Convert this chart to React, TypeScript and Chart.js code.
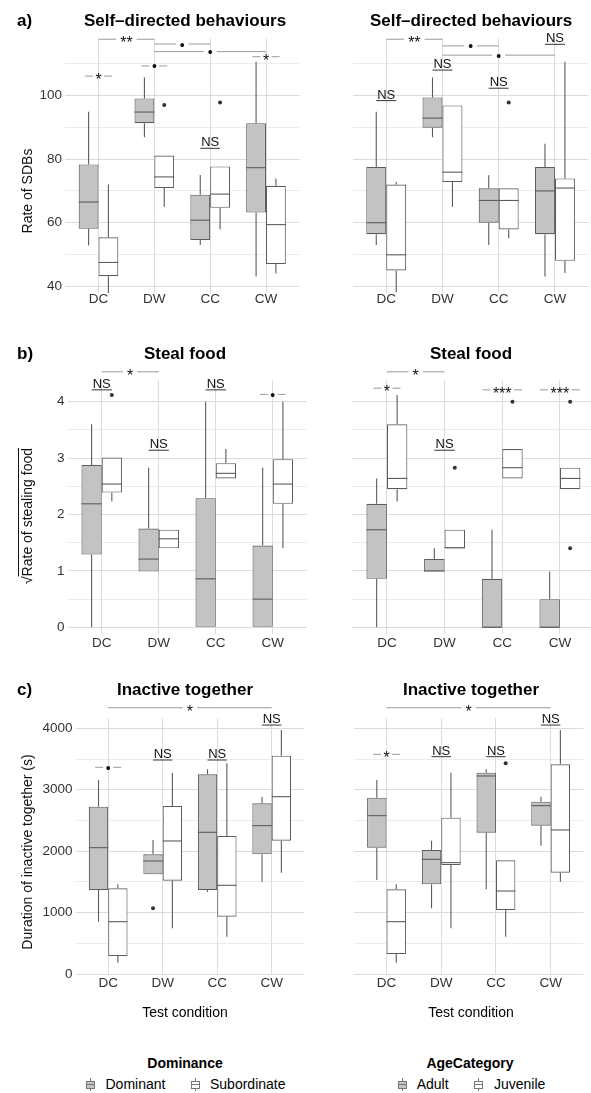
import React, { useEffect, useRef } from 'react';
import { Chart, registerables } from 'chart.js';

Chart.register(...registerables);

const FONT = '"Liberation Sans", Arial, Helvetica, sans-serif';
const GREY_FILL = '#c3c3c3';
const WHITE_FILL = '#ffffff';
const EDGE = '#5c5c5c';
const GRID_MAJOR = '#dcdcdc';
const GRID_MINOR = '#e7e7e7';
const BRACKET = '#9a9a9a';

const categories = ['DC', 'DW', 'CC', 'CW'];

// five-number summaries per category: [min, q1, median, q3, max]
const sdbDominant = [[52.8, 58.1, 66.5, 78.3, 94.9], [86.9, 91.3, 94.8, 99.1, 105.7], [53.0, 54.6, 60.8, 68.8, 75.0], [43.1, 63.2, 77.3, 91.3, 110.6]];
const sdbDominantOut = [[], [], [], []];
const sdbSubordinate = [[37.9, 43.2, 47.5, 55.4, 72.0], [65.0, 70.9, 74.4, 81.1, 81.1], [57.9, 64.7, 69.0, 77.7, 77.7], [44.0, 47.0, 59.4, 71.6, 73.9]];
const sdbSubordinateOut = [[], [97.0], [97.8], []];
const sdbAdult = [[53.0, 56.4, 60.0, 77.5, 94.9], [86.9, 89.9, 92.9, 99.4, 105.7], [53.0, 60.0, 67.0, 70.8, 74.9], [43.1, 56.4, 70.0, 77.5, 84.8]];
const sdbAdultOut = [[], [], [], []];
const sdbJuvenile = [[38.1, 45.0, 49.9, 72.0, 72.8], [65.0, 72.8, 75.9, 96.9, 96.9], [55.1, 57.9, 67.0, 70.8, 70.8], [44.2, 48.0, 70.9, 73.9, 110.6]];
const sdbJuvenileOut = [[], [], [97.8], []];

const stealDominant = [[0, 1.29, 2.19, 2.88, 3.6], [0.99, 0.99, 1.21, 1.75, 2.83], [0, 0, 0.86, 2.29, 4.0], [0, 0, 0.5, 1.45, 2.83]];
const stealDominantOut = [[], [], [], []];
const stealSubordinate = [[2.23, 2.39, 2.54, 3.01, 3.01], [1.4, 1.4, 1.57, 1.73, 1.73], [2.64, 2.64, 2.73, 2.91, 3.16], [1.4, 2.19, 2.54, 2.98, 4.0]];
const stealSubordinateOut = [[4.12], [], [], []];
const stealAdult = [[0, 0.86, 1.73, 2.19, 2.64], [0.99, 0.99, 1.0, 1.21, 1.4], [0, 0, 0, 0.86, 1.73], [0, 0, 0, 0.5, 0.99]];
const stealAdultOut = [[], [], [], []];
const stealJuvenile = [[2.23, 2.45, 2.64, 3.6, 4.12], [1.4, 1.4, 1.41, 1.73, 1.73], [2.64, 2.64, 2.83, 3.16, 3.16], [2.45, 2.45, 2.64, 2.83, 2.83]];
const stealJuvenileOut = [[], [2.83], [4.0], [4.0, 1.4]];

const inactDominant = [[852, 1368, 2057, 2725, 3159], [1623, 1623, 1840, 1948, 2182], [1340, 1368, 2307, 3251, 3332], [1503, 1948, 2415, 2779, 2887]];
const inactDominantOut = [[], [1069], [], []];
const inactSubordinate = [[185, 293, 852, 1395, 1460], [744, 1520, 2166, 2735, 3278], [608, 934, 1444, 2247, 3430], [1650, 2171, 2887, 3555, 3973]];
const inactSubordinateOut = [[], [], [], []];
const inactAdult = [[1530, 2057, 2578, 2871, 3159], [1069, 1460, 1867, 2019, 2171], [1379, 2301, 3224, 3278, 3332], [2090, 2415, 2741, 2806, 2887]];
const inactAdultOut = [[], [], [], []];
const inactJuvenile = [[185, 326, 852, 1379, 1460], [744, 1775, 1813, 2545, 3278], [608, 1042, 1351, 1851, 1851], [1503, 1650, 2345, 3414, 3973]];
const inactJuvenileOut = [[], [], [3430], []];

// tick values
const sdbTicksMajor = [40, 60, 80, 100];
const sdbTicksMinor = [50, 70, 90, 110];
const stealTicksMajor = [0, 1, 2, 3, 4];
const stealTicksMinor = [0.5, 1.5, 2.5, 3.5];
const inactTicksMajor = [0, 1000, 2000, 3000, 4000];
const inactTicksMinor = [500, 1500, 2500, 3500];

// significance annotations (between conditions, and within a condition)
const sdbDomBrackets = [{ from: 'DC', to: 'DW', y: 117.7, label: '**' }, { from: 'DW', to: 'CC', y: 116.2, label: '•' }, { from: 'DW', to: 'CW', y: 113.8, label: '•' }];
const sdbDomMarks = [{ cat: 'DC', y: 106.1, label: '*' }, { cat: 'DW', y: 109.3, label: '•' }, { cat: 'CC', y: 83.4, label: 'NS' }, { cat: 'CW', y: 112.2, label: '*' }];
const sdbAgeBrackets = [{ from: 'DC', to: 'DW', y: 117.7, label: '**' }, { from: 'DW', to: 'CC', y: 115.6, label: '•' }, { from: 'DW', to: 'CW', y: 112.7, label: '•' }];
const sdbAgeMarks = [{ cat: 'DC', y: 98.4, label: 'NS' }, { cat: 'DW', y: 108.0, label: 'NS' }, { cat: 'CC', y: 102.3, label: 'NS' }, { cat: 'CW', y: 116.1, label: 'NS' }];
const stealDomBrackets = [{ from: 'DC', to: 'DW', y: 4.53, label: '*' }];
const stealDomMarks = [{ cat: 'DC', y: 4.21, label: 'NS' }, { cat: 'DW', y: 3.14, label: 'NS' }, { cat: 'CC', y: 4.21, label: 'NS' }, { cat: 'CW', y: 4.13, label: '•' }];
const stealAgeBrackets = [{ from: 'DC', to: 'DW', y: 4.53, label: '*' }];
const stealAgeMarks = [{ cat: 'DC', y: 4.24, label: '*' }, { cat: 'DW', y: 3.14, label: 'NS' }, { cat: 'CC', y: 4.21, label: '***' }, { cat: 'CW', y: 4.21, label: '***' }];
const inactDomBrackets = [{ from: 'DC', to: 'CW', y: 4335, label: '*' }];
const inactDomMarks = [{ cat: 'DC', y: 3365, label: '•' }, { cat: 'DW', y: 3484, label: 'NS' }, { cat: 'CC', y: 3484, label: 'NS' }, { cat: 'CW', y: 4053, label: 'NS' }];
const inactAgeBrackets = [{ from: 'DC', to: 'CW', y: 4335, label: '*' }];
const inactAgeMarks = [{ cat: 'DC', y: 3576, label: '*' }, { cat: 'DW', y: 3538, label: 'NS' }, { cat: 'CC', y: 3538, label: 'NS' }, { cat: 'CW', y: 4053, label: 'NS' }];

const boxPlugin = {
  id: 'boxWhiskers',
  afterDatasetsDraw(chart: any) {
    const ctx = chart.ctx;
    const ys = chart.scales.y;
    chart.data.datasets.forEach((ds: any, d: number) => {
      const meta = chart.getDatasetMeta(d);
      meta.data.forEach((el: any, i: number) => {
        const s = ds.stats[i];
        const cx = el.x;
        const w = el.width;
        ctx.save();
        ctx.strokeStyle = EDGE;
        ctx.lineWidth = 1.1;
        ctx.beginPath();
        ctx.moveTo(cx, ys.getPixelForValue(s[3]));
        ctx.lineTo(cx, ys.getPixelForValue(s[4]));
        ctx.moveTo(cx, ys.getPixelForValue(s[1]));
        ctx.lineTo(cx, ys.getPixelForValue(s[0]));
        ctx.stroke();
        ctx.beginPath();
        ctx.moveTo(cx - w / 2, ys.getPixelForValue(s[2]));
        ctx.lineTo(cx + w / 2, ys.getPixelForValue(s[2]));
        ctx.stroke();
        ctx.fillStyle = '#333333';
        ds.outliers[i].forEach((o: number) => {
          ctx.beginPath();
          ctx.arc(cx, ys.getPixelForValue(o), 2, 0, Math.PI * 2);
          ctx.fill();
        });
        ctx.restore();
      });
    });
  },
};

const labelFont = (label: string) => (label.includes('*') ? `16px ${FONT}` : `14px ${FONT}`);

function makeSigPlugin(brackets: any[], marks: any[]) {
  return {
    id: 'sigAnnotations',
    afterDatasetsDraw(chart: any) {
      const ctx = chart.ctx;
      const xs = chart.scales.x;
      const ys = chart.scales.y;
      const m0 = chart.getDatasetMeta(0);
      const m1 = chart.getDatasetMeta(1);
      const seg = (a: number, b: number, y: number, color: string) => {
        ctx.beginPath();
        ctx.strokeStyle = color;
        ctx.lineWidth = 1;
        ctx.moveTo(a, y);
        ctx.lineTo(b, y);
        ctx.stroke();
      };
      const centered = (label: string, x: number, y: number) => {
        ctx.font = labelFont(label);
        ctx.textAlign = 'center';
        ctx.textBaseline = 'alphabetic';
        ctx.fillStyle = '#111111';
        const mt = ctx.measureText(label);
        ctx.fillText(label, x, y + (mt.actualBoundingBoxAscent - mt.actualBoundingBoxDescent) / 2);
      };
      ctx.save();
      brackets.forEach((b) => {
        const x1 = xs.getPixelForValue(categories.indexOf(b.from) + 1);
        const x2 = xs.getPixelForValue(categories.indexOf(b.to) + 1);
        const y = ys.getPixelForValue(b.y);
        const mid = (x1 + x2) / 2;
        ctx.font = labelFont(b.label);
        const tw = ctx.measureText(b.label).width;
        seg(x1, mid - tw / 2 - 4, y, BRACKET);
        seg(mid + tw / 2 + 4, x2, y, BRACKET);
        centered(b.label, mid, y);
      });
      marks.forEach((m) => {
        const i = categories.indexOf(m.cat);
        const a = m0.data[i].x;
        const c = m1.data[i].x;
        const mid = (a + c) / 2;
        const y = ys.getPixelForValue(m.y);
        if (m.label === 'NS') {
          seg(a, c, y, '#333333');
          ctx.font = `13px ${FONT}`;
          ctx.textAlign = 'center';
          ctx.textBaseline = 'alphabetic';
          ctx.fillStyle = '#111111';
          ctx.fillText('NS', mid, y - 2);
        } else {
          ctx.font = labelFont(m.label);
          const tw = ctx.measureText(m.label).width;
          seg(mid - tw / 2 - 2.5 - 8, mid - tw / 2 - 2.5, y, BRACKET);
          seg(mid + tw / 2 + 2.5, mid + tw / 2 + 2.5 + 8, y, BRACKET);
          centered(m.label, mid, y);
        }
      });
      ctx.restore();
    },
  };
}

function BoxPanel(p: any) {
  const ref = useRef<HTMLCanvasElement>(null);
  useEffect(() => {
    const allTicks = [...p.major, ...p.minor].sort((a, b) => a - b);
    const chart = new Chart(ref.current as HTMLCanvasElement, {
      type: 'bar',
      data: {
        datasets: [
          {
            label: p.groups[0],
            data: p.stats[0].map((s: number[], i: number) => ({ x: i + 1, y: [s[1], s[3]] })),
            stats: p.stats[0],
            outliers: p.outliers[0],
            backgroundColor: GREY_FILL,
            borderColor: EDGE,
            borderWidth: 1.1,
            borderSkipped: false,
          } as any,
          {
            label: p.groups[1],
            data: p.stats[1].map((s: number[], i: number) => ({ x: i + 1, y: [s[1], s[3]] })),
            stats: p.stats[1],
            outliers: p.outliers[1],
            backgroundColor: WHITE_FILL,
            borderColor: EDGE,
            borderWidth: 1.1,
            borderSkipped: false,
          } as any,
        ],
      },
      options: {
        animation: false,
        responsive: false,
        maintainAspectRatio: false,
        devicePixelRatio: 1,
        categoryPercentage: 0.71,
        barPercentage: 1,
        layout: { padding: { top: p.T - p.top, right: p.left + p.width - p.R, left: 0, bottom: 0 } },
        plugins: { legend: { display: false }, tooltip: { enabled: false } },
        scales: {
          x: {
            type: 'linear',
            min: 0.4,
            max: 4.6,
            offset: false,
            border: { display: false },
            grid: { color: GRID_MAJOR, lineWidth: 1, drawTicks: false, offset: false },
            ticks: {
              autoSkip: false,
              maxRotation: 0,
              padding: p.xPad,
              color: '#333333',
              font: { family: FONT, size: 13.5 },
              callback: (v: any) => categories[Number(v) - 1] ?? '',
            },
            afterBuildTicks: (s: any) => {
              s.ticks = categories.map((_, i) => ({ value: i + 1 }));
            },
            afterFit: (s: any) => {
              s.height = p.top + p.height - p.B;
            },
          },
          y: {
            type: 'linear',
            min: p.yMin,
            max: p.yMax,
            border: { display: false },
            grid: {
              drawTicks: false,
              color: (c: any) => (p.major.includes(c.tick?.value) ? GRID_MAJOR : GRID_MINOR),
              lineWidth: (c: any) => (p.major.includes(c.tick?.value) ? 1 : 0.8),
            },
            ticks: {
              display: p.showY,
              autoSkip: false,
              padding: 3,
              color: '#333333',
              font: { family: FONT, size: 13.5 },
              callback: (v: any) => (p.major.includes(Number(v)) ? String(v) : ''),
            },
            afterBuildTicks: (s: any) => {
              s.ticks = allTicks.map((v) => ({ value: v }));
            },
            afterFit: (s: any) => {
              s.width = p.L - p.left;
            },
          },
        },
      } as any,
      plugins: [boxPlugin, makeSigPlugin(p.brackets, p.marks)],
    });
    return () => chart.destroy();
  }, []);
  return (
    <canvas
      ref={ref}
      width={p.width}
      height={p.height}
      style={{ position: 'absolute', left: p.left, top: p.top, width: p.width, height: p.height }}
    />
  );
}

function Txt(props: any) {
  const { x, y, size, bold, center, children, color } = props;
  const top = y - 0.8465 * size;
  return (
    <div
      style={{
        position: 'absolute',
        left: center ? x - 200 : x,
        top,
        width: center ? 400 : undefined,
        textAlign: center ? 'center' : 'left',
        fontFamily: FONT,
        fontSize: size,
        fontWeight: bold ? 'bold' : 'normal',
        lineHeight: `${size}px`,
        whiteSpace: 'nowrap',
        color: color || '#000000',
      }}
    >
      {children}
    </div>
  );
}

function VTxt(props: any) {
  const { cx, cy, size, children } = props;
  return (
    <div
      style={{
        position: 'absolute',
        left: cx - 200,
        top: cy - size / 2,
        width: 400,
        height: size,
        textAlign: 'center',
        fontFamily: FONT,
        fontSize: size,
        lineHeight: `${size}px`,
        whiteSpace: 'nowrap',
        color: '#111111',
        transform: 'rotate(-90deg)',
        transformOrigin: 'center center',
      }}
    >
      {children}
    </div>
  );
}

function Glyph(props: any) {
  const { cx, top, fill } = props;
  return (
    <div style={{ position: 'absolute', left: cx - 4.5, top, width: 9, height: 13 }}>
      <div style={{ position: 'absolute', left: 4, top: 0, width: 1, height: 13, background: '#777777' }} />
      <div
        style={{
          position: 'absolute',
          left: 0,
          top: 2.5,
          width: 9,
          height: 8,
          boxSizing: 'border-box',
          border: '1px solid #777777',
          background: fill,
        }}
      />
      <div style={{ position: 'absolute', left: 0, top: 6, width: 9, height: 1, background: '#777777' }} />
    </div>
  );
}

const rowA = { top: 0, height: 310, T: 38.6, B: 293.3, yMin: 37.8, yMax: 117.9, xPad: -2.6 };
const rowB = { top: 320, height: 330, T: 380, B: 634.1, yMin: -0.12, yMax: 4.385, xPad: 0.8 };
const rowC = { top: 660, height: 340, T: 718.3, B: 974.5, yMin: -8, yMax: 4163, xPad: 0.4 };
const colL = { left: 0, width: 320, showY: true };
const colR = { left: 320, width: 275, showY: false };

export default function App() {
  return (
    <div style={{ position: 'absolute', left: 0, top: 0, width: 591, height: 1093, overflow: 'hidden', background: '#ffffff' }}>
      <BoxPanel {...rowA} {...colL} L={65} R={299.5} major={sdbTicksMajor} minor={sdbTicksMinor}
        groups={['Dominant', 'Subordinate']} stats={[sdbDominant, sdbSubordinate]} outliers={[sdbDominantOut, sdbSubordinateOut]}
        brackets={sdbDomBrackets} marks={sdbDomMarks} />
      <BoxPanel {...rowA} {...colR} L={352.5} R={588.7} major={sdbTicksMajor} minor={sdbTicksMinor}
        groups={['Adult', 'Juvenile']} stats={[sdbAdult, sdbJuvenile]} outliers={[sdbAdultOut, sdbJuvenileOut]}
        brackets={sdbAgeBrackets} marks={sdbAgeMarks} />
      <BoxPanel {...rowB} {...colL} L={67.5} R={307} major={stealTicksMajor} minor={stealTicksMinor}
        groups={['Dominant', 'Subordinate']} stats={[stealDominant, stealSubordinate]} outliers={[stealDominantOut, stealSubordinateOut]}
        brackets={stealDomBrackets} marks={stealDomMarks} />
      <BoxPanel {...rowB} {...colR} L={352.3} R={594.5} major={stealTicksMajor} minor={stealTicksMinor}
        groups={['Adult', 'Juvenile']} stats={[stealAdult, stealJuvenile]} outliers={[stealAdultOut, stealJuvenileOut]}
        brackets={stealAgeBrackets} marks={stealAgeMarks} />
      <BoxPanel {...rowC} {...colL} L={75.5} R={304.4} major={inactTicksMajor} minor={inactTicksMinor}
        groups={['Dominant', 'Subordinate']} stats={[inactDominant, inactSubordinate]} outliers={[inactDominantOut, inactSubordinateOut]}
        brackets={inactDomBrackets} marks={inactDomMarks} />
      <BoxPanel {...rowC} {...colR} L={353.7} R={583.5} major={inactTicksMajor} minor={inactTicksMinor}
        groups={['Adult', 'Juvenile']} stats={[inactAdult, inactJuvenile]} outliers={[inactAdultOut, inactJuvenileOut]}
        brackets={inactAgeBrackets} marks={inactAgeMarks} />

      <Txt x={17} y={26} size={17} bold>a)</Txt>
      <Txt x={185} y={26} size={17} bold center>Self–directed behaviours</Txt>
      <Txt x={471} y={26} size={17} bold center>Self–directed behaviours</Txt>
      <Txt x={17} y={359.3} size={17} bold>b)</Txt>
      <Txt x={185} y={359.3} size={17} bold center>Steal food</Txt>
      <Txt x={471} y={359.3} size={17} bold center>Steal food</Txt>
      <Txt x={17} y={695} size={17} bold>c)</Txt>
      <Txt x={185} y={695} size={17} bold center>Inactive together</Txt>
      <Txt x={471} y={695} size={17} bold center>Inactive together</Txt>

      <VTxt cx={27} cy={191} size={14}>Rate of SDBs</VTxt>
      <VTxt cx={27} cy={516} size={14}>
        <span>√</span>
        <span style={{ textDecoration: 'overline' }}>Rate of stealing food</span>
      </VTxt>
      <VTxt cx={27} cy={852} size={14}>Duration of inactive together (s)</VTxt>

      <Txt x={185} y={1016.7} size={14} center>Test condition</Txt>
      <Txt x={471} y={1016.7} size={14} center>Test condition</Txt>

      <Txt x={185} y={1068.3} size={14} bold center>Dominance</Txt>
      <Txt x={470} y={1068.3} size={14} bold center>AgeCategory</Txt>
      <Glyph cx={90} top={1078} fill={GREY_FILL} />
      <Txt x={105.5} y={1089.3} size={14}>Dominant</Txt>
      <Glyph cx={195} top={1078} fill={WHITE_FILL} />
      <Txt x={210} y={1089.3} size={14}>Subordinate</Txt>
      <Glyph cx={402.3} top={1078} fill={GREY_FILL} />
      <Txt x={416.7} y={1089.3} size={14}>Adult</Txt>
      <Glyph cx={478.3} top={1078} fill={WHITE_FILL} />
      <Txt x={494} y={1089.3} size={14}>Juvenile</Txt>
    </div>
  );
}
